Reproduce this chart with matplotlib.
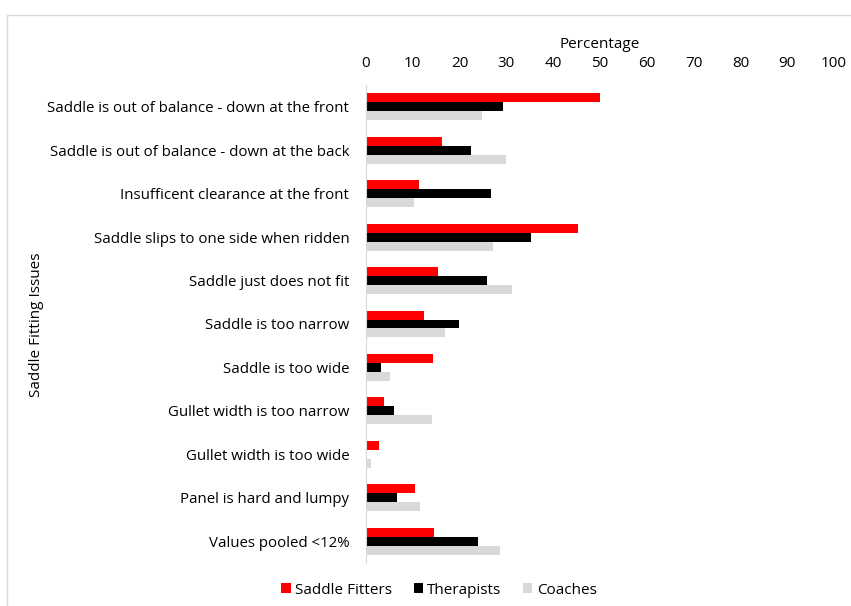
import numpy as np
import matplotlib.pyplot as plt
from matplotlib.patches import Rectangle

plt.rcParams['font.family'] = ['Open Sans', 'DejaVu Sans']

issues = [
    "Saddle is out of balance - down at the front",
    "Saddle is out of balance - down at the back",
    "Insufficent clearance at the front",
    "Saddle slips to one side when ridden",
    "Saddle just does not fit",
    "Saddle is too narrow",
    "Saddle is too wide",
    "Gullet width is too narrow",
    "Gullet width is too wide",
    "Panel is hard and lumpy",
    "Values pooled <12%",
]
saddle_fitters = [50.0, 16.3, 11.4, 45.2, 15.3, 12.4, 14.3, 3.8, 2.8, 10.5, 14.5]
therapists = [29.3, 22.4, 26.7, 35.3, 25.9, 19.8, 3.3, 5.9, 0.0, 6.7, 24.0]
coaches = [24.7, 29.9, 10.3, 27.2, 31.1, 16.8, 5.1, 14.2, 1.1, 11.6, 28.6]

series = [
    ("Saddle Fitters", saddle_fitters, "#FF0000"),
    ("Therapists", therapists, "#000000"),
    ("Coaches", coaches, "#D9D9D9"),
]

fig = plt.figure(figsize=(8.51, 6.06), dpi=100)
ax = fig.add_axes([366 / 851, 1 - 563 / 606, (834 - 366) / 851, (563 - 85) / 606])

# light outer frame of the chart area
fig.patches.append(Rectangle((7 / 851, -0.01), 1.0, 1 - 15 / 606 + 0.01,
                             transform=fig.transFigure, fill=False,
                             edgecolor="#D9D9D9", linewidth=1))

y = np.arange(len(issues))
h = 0.207
for i, (name, vals, color) in enumerate(series):
    ax.barh(y + (i - 1) * h, vals, height=h, color=color, label=name)

ax.set_xlim(0, 100)
ax.set_ylim(len(issues) - 0.5, -0.5)
ax.set_xticks(range(0, 101, 10))
ax.xaxis.tick_top()
ax.xaxis.set_label_position("top")
ax.set_xlabel("Percentage", fontsize=11, labelpad=6)
ax.set_yticks(y)
ax.set_yticklabels(issues, fontsize=10.8)
ax.tick_params(axis="x", length=0, labelsize=11, pad=10)
ax.tick_params(axis="y", length=0, pad=12)
for side in ["top", "right", "bottom"]:
    ax.spines[side].set_visible(False)
ax.spines["left"].set_color("#D9D9D9")

fig.text(37 / 851, 1 - 325 / 606, "Saddle Fitting Issues", rotation=90,
         ha="center", va="center", fontsize=11)

fig.legend(loc="center", bbox_to_anchor=(439 / 851, 1 - 590 / 606), ncol=3,
           frameon=False, fontsize=11, handlelength=0.6, handleheight=0.6,
           handletextpad=0.3, columnspacing=1.4)

fig.savefig("out.png", dpi=100)
